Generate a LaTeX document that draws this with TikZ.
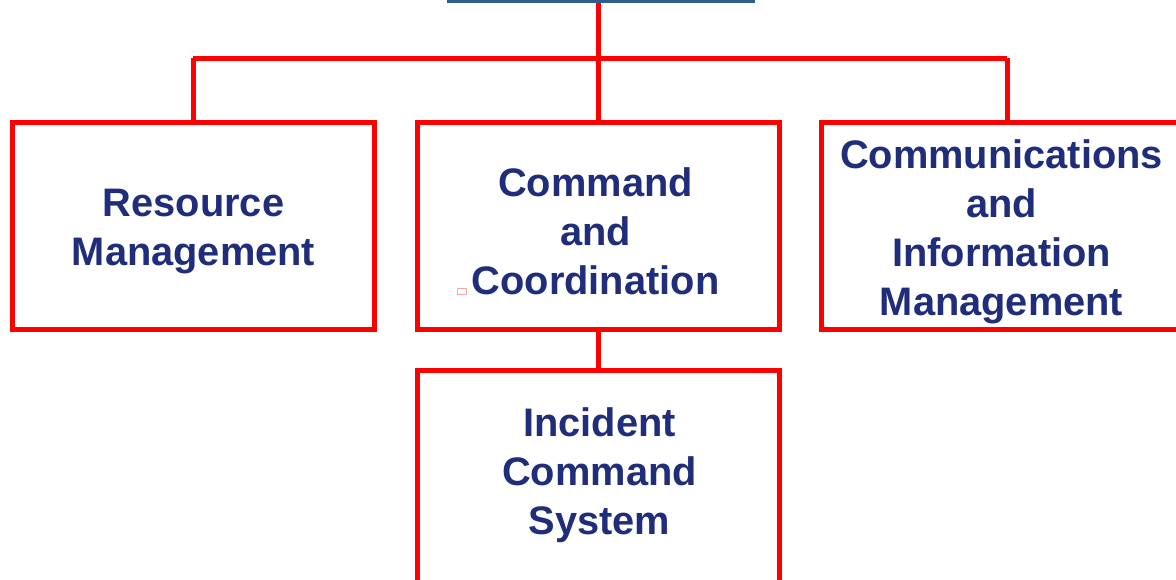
\documentclass[tikz,border=0pt]{standalone}
\usepackage{fontspec}
\setmainfont{Liberation Sans}
\definecolor{boxred}{RGB}{255,0,0}
\definecolor{textnavy}{RGB}{31,45,122}
\definecolor{topblue}{RGB}{47,94,140}
\definecolor{specpink}{RGB}{245,170,170}
\begin{document}
\begin{tikzpicture}[x=1pt,y=-1pt]
		\tikzset{area/.style = {draw=boxred, line width=5pt, fill=white, minimum width=362pt, minimum height=207pt, inner sep=0pt}}
		\tikzset{areatext/.style = {align=center, text=textnavy, font=\fontsize{39.8}{49}\selectfont\bfseries, inner sep=0pt}}
		\tikzset{link/.style = {draw=boxred, line width=5pt}}
		
		\useasboundingbox (0,0) rectangle (1176,579);
		\clip (0,0) rectangle (1176,579);
		
		\node[draw=topblue, line width=6pt, minimum width=302pt, minimum height=100pt, inner sep=0pt]  (top) at ( 601,  -50) {};
		\node[area, label={[areatext, yshift=-5.5pt]center:{Resource\\Management}}]                           (rm)  at ( 193.5,  226) {};
		\node[area, label={[areatext, yshift=-5.5pt, xshift=-3pt]center:{Command\\and\\Coordination}}]        (cc)  at ( 598.5,  226) {};
		\node[area, label={[areatext, yshift=-5.5pt, xshift=-1pt]center:{Communications\\and\\Information\\Management}}] (cim) at (1002.5,  226) {};
		\node[area, minimum height=230pt, label={[areatext, yshift=10pt, xshift=1pt]center:{Incident\\Command\\System}}] (ics) at ( 598.5,  485.5) {};
		
		\coordinate (busL) at ( 193,   58);
		\coordinate (busR) at (1007,   58);
		
		\draw[link] (cc.north |- top.south) to (cc.north);
		\draw[link] (busL) to (busR);
		\draw[link] (busL) to (busL |- rm.north);
		\draw[link] (busR) to (busR |- cim.north);
		\draw[link] (cc.south) to (ics.north);
		
		\draw[specpink, line width=1pt] (457,288) rectangle (466,294);
\end{tikzpicture}
\end{document}
